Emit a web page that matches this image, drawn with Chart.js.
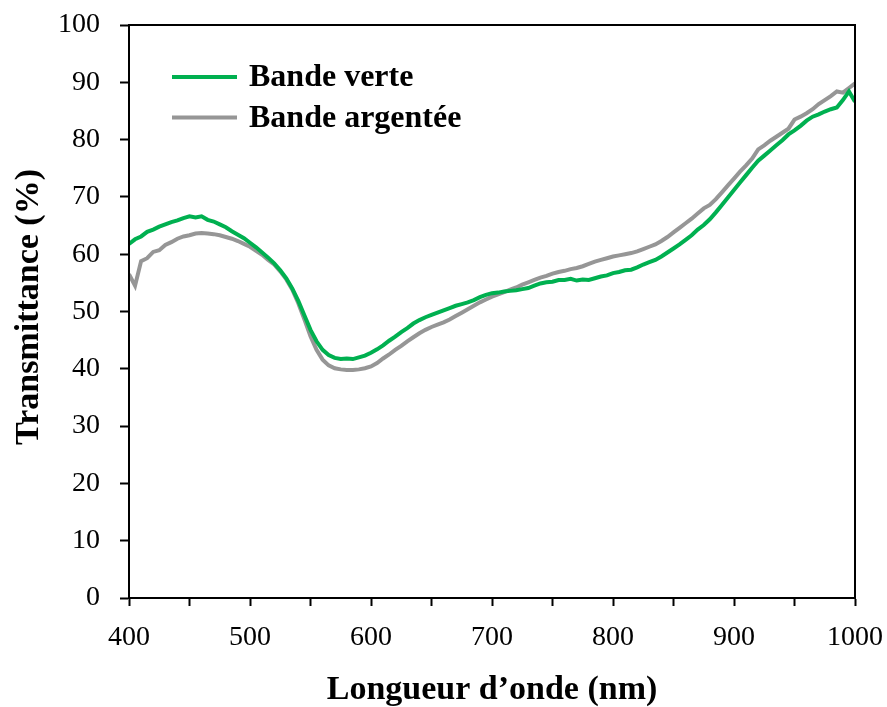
<!DOCTYPE html>
<html>
<head>
<meta charset="utf-8">
<script src="https://cdn.jsdelivr.net/npm/chart.js@4.4.1/dist/chart.umd.min.js"></script>
<style>
  html, body { margin: 0; padding: 0; background: #fff; }
  #wrap { width: 887px; height: 707px; }
</style>
</head>
<body>
<div id="wrap"><canvas id="myChart" width="887" height="707"></canvas></div>
<script>
// Wavelengths (nm), read every 5 nm off the picture

const wavelengths = [
  400, 405, 410, 415, 420, 425, 430, 435, 440, 445, 450, 455, 460, 465, 470, 475, 480, 485, 490, 495,
  500, 505, 510, 515, 520, 525, 530, 535, 540, 545, 550, 555, 560, 565, 570, 575, 580, 585, 590, 595,
  600, 605, 610, 615, 620, 625, 630, 635, 640, 645, 650, 655, 660, 665, 670, 675, 680, 685, 690, 695,
  700, 705, 710, 715, 720, 725, 730, 735, 740, 745, 750, 755, 760, 765, 770, 775, 780, 785, 790, 795,
  800, 805, 810, 815, 820, 825, 830, 835, 840, 845, 850, 855, 860, 865, 870, 875, 880, 885, 890, 895,
  900, 905, 910, 915, 920, 925, 930, 935, 940, 945, 950, 955, 960, 965, 970, 975, 980, 985, 990, 995,
  1000
];

// Transmittance (%) for the green band

const verte = [
  61.8, 62.6, 63.1, 63.9, 64.3, 64.8, 65.2, 65.6, 65.9, 66.3, 66.6, 66.4, 66.6, 66.0, 65.7, 65.2, 64.7, 64.0, 63.4, 62.8,
  62.0, 61.2, 60.3, 59.4, 58.4, 57.2, 55.8, 54.0, 51.8, 49.3, 46.8, 44.8, 43.3, 42.4, 41.9, 41.7, 41.8, 41.7, 42.0, 42.3,
  42.8, 43.4, 44.1, 44.9, 45.6, 46.4, 47.1, 47.9, 48.5, 49.0, 49.4, 49.8, 50.2, 50.6, 51.0, 51.3, 51.6, 52.0, 52.5, 52.9,
  53.2, 53.3, 53.5, 53.6, 53.7, 53.9, 54.1, 54.5, 54.9, 55.1, 55.2, 55.5, 55.5, 55.7, 55.4, 55.6, 55.5, 55.8, 56.1, 56.3,
  56.7, 56.9, 57.2, 57.3, 57.7, 58.2, 58.6, 59.0, 59.6, 60.3, 61.0, 61.7, 62.5, 63.3, 64.3, 65.1, 66.1, 67.3, 68.6, 69.9,
  71.2, 72.5, 73.8, 75.1, 76.3, 77.2, 78.1, 79.0, 79.9, 80.9, 81.6, 82.4, 83.3, 84.0, 84.4, 84.9, 85.3, 85.6, 86.9, 88.4,
  86.6
];

// Transmittance (%) for the silver band

const argentee = [
  56.5, 54.5, 58.8, 59.3, 60.4, 60.7, 61.6, 62.1, 62.7, 63.1, 63.3, 63.6, 63.7, 63.6, 63.5, 63.3, 63.0, 62.7, 62.3, 61.8,
  61.3, 60.6, 59.9, 59.0, 58.2, 57.0, 55.6, 53.8, 51.4, 48.6, 45.7, 43.3, 41.6, 40.6, 40.1, 39.9, 39.8, 39.8, 39.9, 40.1,
  40.4, 41.0, 41.8, 42.5, 43.3, 44.0, 44.8, 45.5, 46.2, 46.8, 47.3, 47.7, 48.1, 48.6, 49.2, 49.8, 50.4, 51.0, 51.6, 52.1,
  52.6, 53.0, 53.4, 53.8, 54.2, 54.7, 55.1, 55.5, 55.9, 56.2, 56.6, 56.9, 57.1, 57.4, 57.6, 57.9, 58.3, 58.7, 59.0, 59.3,
  59.6, 59.8, 60.0, 60.2, 60.5, 60.9, 61.3, 61.7, 62.3, 63.0, 63.8, 64.6, 65.4, 66.2, 67.1, 68.0, 68.6, 69.6, 70.8, 72.0,
  73.2, 74.4, 75.5, 76.7, 78.3, 79.0, 79.8, 80.5, 81.2, 81.9, 83.5, 84.0, 84.6, 85.3, 86.2, 86.9, 87.6, 88.4, 88.2, 89.0,
  89.8
];

const seriesLabels = ["Bande verte", "Bande argentée"];
const seriesColors = ["#00b050", "#969696"];
const xTitle = "Longueur d’onde (nm)";
const yTitle = "Transmittance (%)";

const serif = "'Liberation Serif', 'DejaVu Serif', serif";

// Plugin: frame around the plot, legend inside it and the axis titles

const decorations = {
  id: "decorations",
  afterDraw(chart) {
    const ctx = chart.ctx;
    const area = chart.chartArea;
    ctx.save();

    ctx.strokeStyle = "#000";
    ctx.lineWidth = 2;
    ctx.strokeRect(area.left, area.top, area.right - area.left, area.bottom - area.top);

    // legend, in the order of the series
    chart.data.datasets.forEach((ds, i) => {
      let y = area.top + 52 + i * 40.5;
      ctx.strokeStyle = ds.borderColor;
      ctx.lineWidth = 4;
      ctx.beginPath();
      ctx.moveTo(area.left + 43, y);
      ctx.lineTo(area.left + 108, y);
      ctx.stroke();
      ctx.fillStyle = "#000";
      ctx.font = "bold 32px " + serif;
      ctx.textAlign = "left";
      ctx.textBaseline = "middle";
      ctx.fillText(ds.label, area.left + 120, y + 1);
    });

    // axis titles
    ctx.fillStyle = "#000";
    ctx.font = "bold 34px " + serif;
    ctx.textAlign = "center";
    ctx.textBaseline = "middle";
    ctx.fillText(xTitle, (area.left + area.right) / 2, 690);

    ctx.translate(29, 307);
    ctx.rotate(-Math.PI / 2);
    ctx.fillText(yTitle, 0, 0);
    ctx.restore();
  }
};

function createChart() {
  // first dataset is drawn on top, as the green line is in the picture
  let datasets = [verte, argentee].map((values, i) => ({
    label: seriesLabels[i],
    data: wavelengths.map((w, j) => ({ x: w, y: values[j] })),
    borderColor: seriesColors[i],
    backgroundColor: seriesColors[i],
    borderWidth: 4,
    pointRadius: 0,
    tension: 0,
    fill: false
  }));

  new Chart("myChart", {
    type: "line",
    data: { datasets: datasets },
    options: {
      responsive: false,
      animation: false,
      events: [],
      layout: { padding: { top: 25, right: 32, left: 0, bottom: 0 } },
      plugins: {
        legend: { display: false },
        tooltip: { enabled: false }
      },
      scales: {
        x: {
          type: "linear",
          min: 400,
          max: 1000,
          afterFit: (s) => {
            s.height = 109;
            s.paddingLeft = 0;
            s.paddingRight = 0;
          },
          border: { display: true, color: "#000", width: 2 },
          grid: { drawOnChartArea: false, tickColor: "#000", tickWidth: 2, tickLength: 8 },
          ticks: {
            stepSize: 50,
            autoSkip: false,
            maxRotation: 0,
            padding: 15,
            color: "#000",
            font: { family: serif, size: 28 },
            callback: (v) => (v % 100 === 0 ? v : "")
          }
        },
        y: {
          min: 0,
          max: 100,
          afterFit: (s) => {
            s.width = 129;
            s.paddingTop = 0;
            s.paddingBottom = 0;
          },
          border: { display: true, color: "#000", width: 2 },
          grid: { drawOnChartArea: false, tickColor: "#000", tickWidth: 2, tickLength: 9 },
          ticks: {
            stepSize: 10,
            padding: 20,
            color: "#000",
            font: { family: serif, size: 28 }
          }
        }
      }
    },
    plugins: [decorations]
  });
}

createChart();
</script>
</body>
</html>
